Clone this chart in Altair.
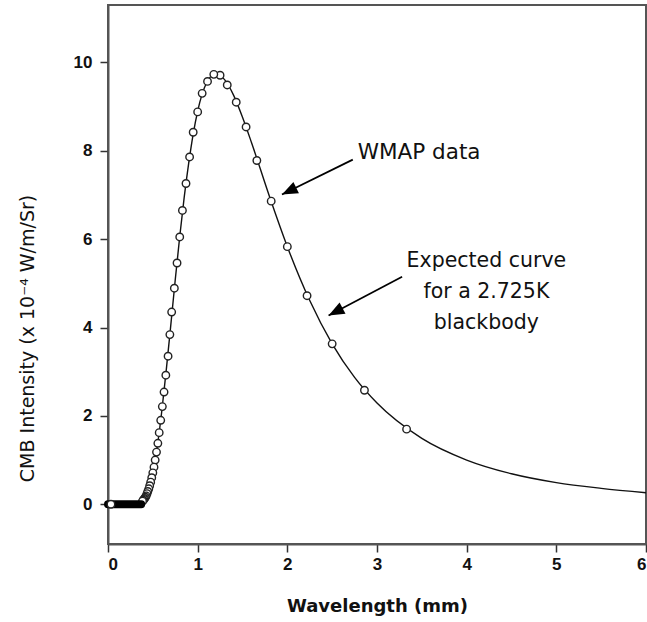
import altair as alt
import pandas as pd

# ---- data ----
# WMAP data points: wavelength (mm), intensity (x 1e-4 W/m/Sr)
wmap_x = [3.33, 2.86, 2.50, 2.22, 2.00, 1.82, 1.66, 1.54, 1.43, 1.33, 1.25, 1.18,
          1.11, 1.05, 1.00, 0.95, 0.91, 0.87, 0.83, 0.80, 0.77, 0.74, 0.71, 0.69,
          0.67, 0.645, 0.625, 0.606, 0.588, 0.571, 0.556, 0.541, 0.526, 0.513,
          0.500, 0.488, 0.476, 0.465, 0.455, 0.444, 0.435, 0.426, 0.417, 0.408,
          0.400, 0.392, 0.385]
wmap_y = [1.70, 2.58, 3.63, 4.72, 5.83, 6.86, 7.78, 8.54, 9.10, 9.49, 9.71, 9.73,
          9.57, 9.30, 8.88, 8.42, 7.86, 7.26, 6.65, 6.05, 5.46, 4.89, 4.35, 3.84,
          3.35, 2.92, 2.54, 2.21, 1.90, 1.62, 1.38, 1.18, 1.00, 0.84, 0.71, 0.60,
          0.50, 0.42, 0.35, 0.29, 0.24, 0.19, 0.16, 0.13, 0.11, 0.09, 0.07]

# dense short-wavelength points that merge into a solid band at zero
band_x = [0.0, 0.37]
band_y = [0.0, 0.0]
first_x = [0.033]
first_y = [0.0]

# expected 2.725 K blackbody curve
curve_x = [0.0, 0.30, 0.35, 0.40, 0.45, 0.50, 0.55, 0.60, 0.65, 0.70, 0.75, 0.80,
           0.85, 0.90, 0.95, 1.00, 1.10, 1.20, 1.30, 1.40, 1.50, 1.60, 1.80, 2.00,
           2.25, 2.50, 2.75, 3.00, 3.50, 4.00, 4.50, 5.00, 5.50, 6.00]
curve_y = [0.0, 0.0, 0.03, 0.11, 0.32, 0.71, 1.31, 2.11, 3.04, 4.05, 5.08, 6.06,
           6.95, 7.72, 8.38, 8.90, 9.54, 9.74, 9.61, 9.26, 8.76, 8.19, 6.97, 5.83,
           4.61, 3.63, 2.87, 2.29, 1.49, 1.00, 0.69, 0.49, 0.36, 0.26]

# annotations
label_text = ["WMAP data", "Expected curve", "for a 2.725K", "blackbody"]
label_x = [3.47, 4.22, 4.22, 4.22]
label_y = [7.94, 5.51, 4.81, 4.10]
label_size = [21.5, 20.5, 20.5, 20.5]

arrow_x = [2.73, 3.28]
arrow_y = [7.80, 5.15]
arrow_x2 = [1.94, 2.46]
arrow_y2 = [7.01, 4.27]
arrow_angle = [244, 242]

x_ticks = [0, 1, 2, 3, 4, 5, 6]
y_ticks = [0, 2, 4, 6, 8, 10]

# ---- tables ----
wmap = pd.DataFrame({"x": wmap_x, "y": wmap_y, "o": list(range(len(wmap_x)))})
band = pd.DataFrame({"x": band_x, "y": band_y})
first = pd.DataFrame({"x": first_x, "y": first_y})
curve = pd.DataFrame({"x": curve_x, "y": curve_y})
labels = pd.DataFrame({"t": label_text, "x": label_x, "y": label_y, "s": label_size})
arrows = pd.DataFrame({"x": arrow_x, "y": arrow_y, "x2": arrow_x2, "y2": arrow_y2,
                       "ang": arrow_angle})

xs = alt.Scale(domain=[0, 6], nice=False, zero=False)
ys = alt.Scale(domain=[-0.9, 11.3], nice=False, zero=False)

X = alt.X("x:Q", scale=xs, axis=alt.Axis(
    values=x_ticks, format="d", title="Wavelength (mm)", titleFont="DejaVu Sans",
    titleFontSize=18, titleFontWeight="bold", titleY=62, titleBaseline="middle",
    labelPadding=4))
Y = alt.Y("y:Q", scale=ys, axis=alt.Axis(
    values=y_ticks, format="d", title="CMB Intensity (x 10⁻⁴ W/m/Sr)",
    titleFont="DejaVu Sans", titleFontSize=19, titleFontWeight="normal",
    titleX=-81, titleY=333, titleBaseline="middle", titleAlign="center",
    titleAngle=270, labelPadding=8))

curve_layer = alt.Chart(curve).mark_line(
    color="#111", strokeWidth=1.4, interpolate="monotone").encode(x=X, y=Y)

points_layer = alt.Chart(wmap).mark_point(
    shape="circle", filled=True, fill="white", stroke="#222", strokeWidth=1.4,
    size=56, opacity=1).encode(x="x:Q", y="y:Q", order="o:Q")

band_layer = alt.Chart(band).mark_line(
    color="black", strokeWidth=8, strokeCap="round").encode(x="x:Q", y="y:Q")

first_layer = alt.Chart(first).mark_point(
    shape="circle", filled=True, fill="white", stroke="#222", strokeWidth=1.4,
    size=56, opacity=1).encode(x="x:Q", y="y:Q")

arrow_lines = alt.Chart(arrows).mark_rule(color="black", strokeWidth=1.7).encode(
    x="x:Q", y="y:Q", x2="x2:Q", y2="y2:Q")

arrow_heads = alt.Chart(arrows).mark_point(
    shape="M0,0L-0.4,1L0.4,1Z", filled=True, color="black", size=1000,
    opacity=1).encode(x="x2:Q", y="y2:Q", angle=alt.Angle("ang:Q", scale=None))

text_layer = alt.Chart(labels).mark_text(
    font="DejaVu Sans", color="#111", align="center", baseline="middle"
).encode(x="x:Q", y="y:Q", text="t:N", size=alt.Size("s:Q", scale=None))

chart = alt.layer(
    curve_layer, points_layer, band_layer, first_layer,
    arrow_lines, arrow_heads, text_layer
).properties(
    width=538, height=539,
    autosize=alt.AutoSizeParams(type="none"),
    padding={"left": 108, "top": 5, "right": 1, "bottom": 78},
    background="white",
).configure_view(
    stroke="#555", strokeWidth=2
).configure_axis(
    grid=False, domainColor="#555", domainWidth=2, tickColor="#333",
    tickWidth=1.5, tickSize=8, labelFont="Liberation Sans", labelFontSize=17,
    labelFontWeight="bold", labelColor="#111", titleColor="#111"
)

chart.save("out.html", embed_options={"renderer": "svg", "actions": False})
